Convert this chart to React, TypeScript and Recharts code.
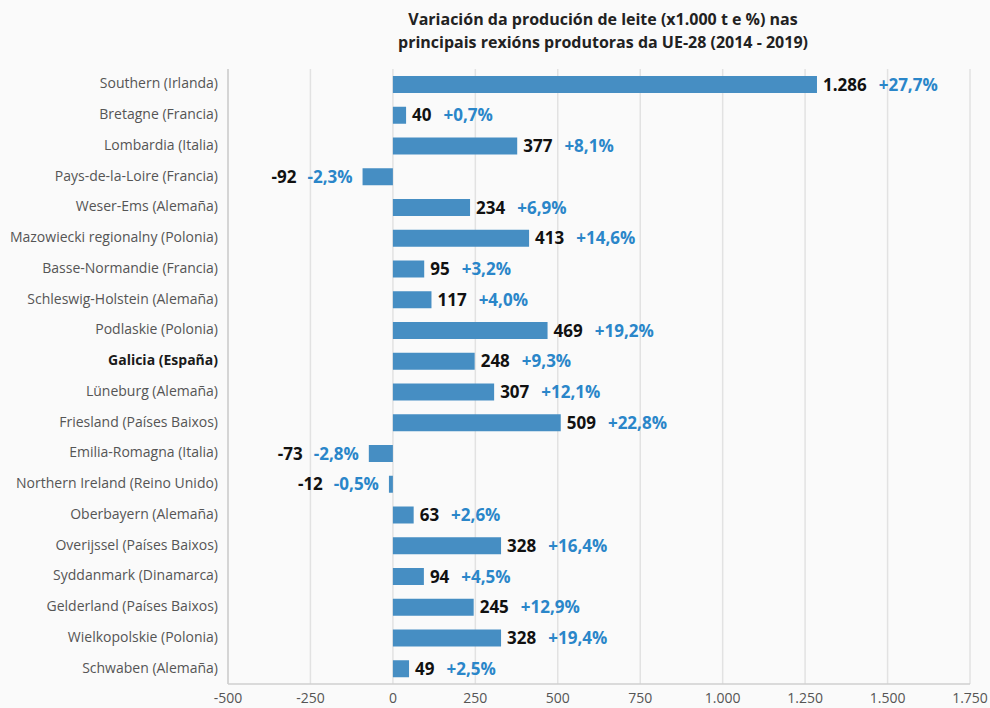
import { Bar, BarChart, CartesianGrid, LabelList, XAxis, YAxis } from 'recharts';

const regions = [
  'Southern (Irlanda)',
  'Bretagne (Francia)',
  'Lombardia (Italia)',
  'Pays-de-la-Loire (Francia)',
  'Weser-Ems (Alemaña)',
  'Mazowiecki regionalny (Polonia)',
  'Basse-Normandie (Francia)',
  'Schleswig-Holstein (Alemaña)',
  'Podlaskie (Polonia)',
  'Galicia (España)',
  'Lüneburg (Alemaña)',
  'Friesland (Países Baixos)',
  'Emilia-Romagna (Italia)',
  'Northern Ireland (Reino Unido)',
  'Oberbayern (Alemaña)',
  'Overijssel (Países Baixos)',
  'Syddanmark (Dinamarca)',
  'Gelderland (Países Baixos)',
  'Wielkopolskie (Polonia)',
  'Schwaben (Alemaña)',
];

// variación en miles de toneladas
const change = [1286, 40, 377, -92, 234, 413, 95, 117, 469, 248, 307, 509, -73, -12, 63, 328, 94, 245, 328, 49];

// variación en %
const changePct = [27.7, 0.7, 8.1, -2.3, 6.9, 14.6, 3.2, 4.0, 19.2, 9.3, 12.1, 22.8, -2.8, -0.5, 2.6, 16.4, 4.5, 12.9, 19.4, 2.5];

const xTicks = [-500, -250, 0, 250, 500, 750, 1000, 1250, 1500, 1750];

const highlight = 'Galicia (España)';

const data = regions.map((name, i) => ({ name, value: change[i], pct: changePct[i] }));

const FONT = '"Open Sans", "DejaVu Sans", sans-serif';
const BAR = '#468ec3';
const BLUE = '#2a86c9';

const fmtNum = (v: number) => {
  const s = Math.abs(v).toString().replace(/\B(?=(\d{3})+(?!\d))/g, '.');
  return (v < 0 ? '-' : '') + s;
};

const fmtPct = (v: number) => (v > 0 ? '+' : v < 0 ? '-' : '') + Math.abs(v).toFixed(1).replace('.', ',') + '%';

const YTick = (props: any) => {
  const { x, y, payload } = props;
  const bold = payload.value === highlight;
  return (
    <text
      x={x}
      y={y}
      dy={4}
      textAnchor="end"
      fontFamily={FONT}
      fontSize={14}
      fontWeight={bold ? 700 : 400}
      fill={bold ? '#1a1a1a' : '#555'}
    >
      {payload.value}
    </text>
  );
};

const ValueLabel = (props: any) => {
  const { x, y, width, height, index } = props;
  const d = data[index];
  const cy = y + height / 2 + 6;
  if (d.value >= 0) {
    return (
      <text x={x + width + 6} y={cy} textAnchor="start" fontFamily={FONT} fontSize={17} fontWeight={700}>
        <tspan fill="#111">{fmtNum(d.value)}</tspan>
        <tspan fill={BLUE} dx={12}>{fmtPct(d.pct)}</tspan>
      </text>
    );
  }
  const left = Math.min(x, x + width);
  return (
    <text x={left - 10} y={cy} textAnchor="end" fontFamily={FONT} fontSize={17} fontWeight={700}>
      <tspan fill="#111">{fmtNum(d.value)}</tspan>
      <tspan fill={BLUE} dx={11}>{fmtPct(d.pct)}</tspan>
    </text>
  );
};

export default function App() {
  return (
    <div style={{ position: 'absolute', left: 0, top: 0, width: 990, height: 708, background: '#fafafa' }}>
      <div
        style={{
          position: 'absolute',
          left: 208,
          width: 790,
          top: 8,
          textAlign: 'center',
          fontFamily: FONT,
          fontSize: 16,
          fontWeight: 700,
          lineHeight: '23px',
          color: '#222',
        }}
      >
        Variación da produción de leite (x1.000 t e %) nas
        <br />
        principais rexións produtoras da UE-28 (2014 - 2019)
      </div>
      <BarChart
        width={990}
        height={708}
        data={data}
        layout="vertical"
        margin={{ top: 69, right: 20, left: 0, bottom: 0 }}
        barCategoryGap={0}
      >
        <CartesianGrid horizontal={false} stroke="#e2e2e2" strokeWidth={1.5} />
        <XAxis
          type="number"
          domain={[-500, 1750]}
          ticks={xTicks}
          interval={0}
          tickFormatter={fmtNum}
          height={24}
          tickLine={false}
          tickSize={0}
          tickMargin={9}
          axisLine={{ stroke: '#cfcfcf', strokeWidth: 1.5 }}
          tick={{ fontFamily: FONT, fontSize: 14, fill: '#555' }}
        />
        <YAxis
          type="category"
          dataKey="name"
          width={228}
          interval={0}
          tickLine={false}
          tickSize={0}
          tickMargin={10}
          axisLine={{ stroke: '#cfcfcf', strokeWidth: 1.5 }}
          tick={<YTick />}
        />
        <Bar dataKey="value" fill={BAR} barSize={17} isAnimationActive={false}>
          <LabelList dataKey="value" content={<ValueLabel />} />
        </Bar>
      </BarChart>
    </div>
  );
}
